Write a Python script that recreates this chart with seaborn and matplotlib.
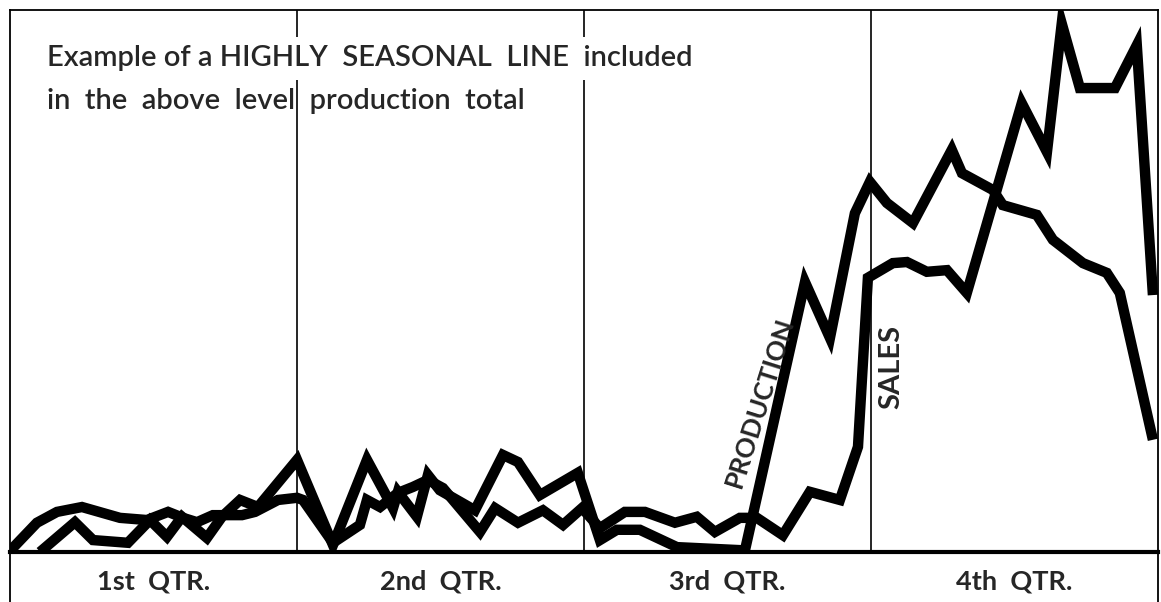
import pandas as pd
import matplotlib.pyplot as plt
import seaborn as sns

# --- data (x = week of year, y = relative units, 100 = top of frame) ---
prod_week = [1.36, 2.94, 3.76, 5.34, 6.34, 7.11, 7.79, 8.92, 9.60, 10.42, 11.23, 13.0,
             14.63, 16.17, 17.35, 17.57, 18.43, 18.93, 19.47, 21.06, 22.33, 23.01, 24.0,
             25.72, 26.72, 27.49, 28.53, 30.21, 33.29, 36.01, 37.14, 38.27, 38.95, 39.72,
             40.90, 42.66, 43.12, 44.52, 44.97, 46.51, 47.24, 48.60, 49.68, 50.27, 51.77]
prod_val = [0, 5.5, 2.2, 1.7, 5.9, 2.8, 6.5, 2.6, 6.5, 9.6, 8.3, 17.0,
            1.3, 17.0, 8.1, 11.1, 6.5, 14.2, 11.4, 7.7, 17.9, 16.6, 10.5,
            14.6, 2.2, 4.1, 4.1, 0.9, 0.3, 49.8, 39.5, 62.5, 68.3, 64.4,
            60.7, 74.2, 69.9, 66.8, 64.0, 62.2, 57.6, 53.3, 51.5, 47.8, 20.7]

sales_week = [0, 1.22, 2.13, 3.26, 4.98, 6.2, 7.16, 7.84, 8.47, 9.19, 10.51, 11.1, 12.14,
              13.0, 13.27, 14.63, 15.85, 16.17, 16.76, 17.57, 18.25, 18.93, 19.61, 21.29,
              21.97, 23.01, 24.14, 25.05, 25.91, 26.72, 27.85, 28.76, 30.12, 31.11, 31.93,
              33.06, 33.83, 35.01, 36.23, 37.59, 38.41, 38.86, 39.99, 40.63, 41.53, 42.44,
              43.34, 45.83, 46.97, 47.64, 48.46, 50.05, 51.04, 51.77]
sales_val = [0.2, 5.4, 7.4, 8.3, 6.3, 5.9, 7.4, 6.3, 5.5, 6.8, 6.8, 7.4, 9.6,
             10.0, 9.6, 1.7, 5.0, 9.6, 8.3, 10.9, 12.0, 13.3, 11.8, 3.7,
             8.1, 5.4, 7.7, 5.0, 8.1, 4.4, 7.4, 7.4, 5.4, 6.5, 3.7,
             6.3, 6.3, 3.1, 11.1, 9.6, 19.4, 50.6, 53.3, 53.5, 51.7, 52.0,
             47.8, 82.8, 73.8, 97.5, 85.6, 85.6, 93.5, 47.4]

quarter_ends = [13, 26, 39]
quarter_labels = ["1st  QTR.", "2nd  QTR.", "3rd  QTR.", "4th  QTR."]
quarter_mid = [6.5, 19.5, 32.5, 45.5]

title_lines = ["Example of a HIGHLY  SEASONAL  LINE  included",
               "in  the  above  level  production  total"]

df = pd.concat([
    pd.DataFrame({"week": prod_week, "val": prod_val, "serie": "PRODUCTION"}),
    pd.DataFrame({"week": sales_week, "val": sales_val, "serie": "SALES"}),
])

sns.set_theme(style="white")
plt.rcParams["font.family"] = ["Lato", "DejaVu Sans"]

fig = plt.figure(figsize=(11.61, 6.02), dpi=100)
ax = fig.add_axes([10 / 1161, 50 / 602, 1148 / 1161, 542 / 602])

sns.lineplot(data=df, x="week", y="val", hue="serie", units="serie", estimator=None,
             sort=False, palette=["black", "black"], linewidth=7.5, legend=False, ax=ax,
             solid_joinstyle="miter", solid_capstyle="butt")

ax.set_xlim(0, 52)
ax.set_ylim(0, 100)
ax.set_xticks([])
ax.set_yticks([])
ax.set_xlabel("")
ax.set_ylabel("")

for s in ["top", "left", "right"]:
    ax.spines[s].set_linewidth(1.3)
    ax.spines[s].set_color("black")
ax.spines["bottom"].set_linewidth(3)
ax.spines["bottom"].set_color("black")

# quarter dividers
for q in quarter_ends:
    ax.axvline(q, color="black", lw=1.2, zorder=1)

# side borders continue down through the label band
ax.plot([0, 0], [0, -0.1], transform=ax.transAxes, color="black", lw=1.3, clip_on=False)
ax.plot([1, 1], [0, -0.1], transform=ax.transAxes, color="black", lw=1.3, clip_on=False)

for m, lab in zip(quarter_mid, quarter_labels):
    ax.text(m, -0.054, lab, transform=ax.get_xaxis_transform(), ha="center", va="center",
            fontsize=19.5, fontweight="bold")

ax.text(0.032, 0.911, title_lines[0], transform=ax.transAxes, ha="left", va="center",
        fontsize=21, fontweight="semibold", zorder=5,
        bbox=dict(facecolor="white", edgecolor="none", pad=6))
ax.text(0.032, 0.832, title_lines[1], transform=ax.transAxes, ha="left", va="center",
        fontsize=21, fontweight="semibold", zorder=5)

ax.text(33.95, 27.6, "PRODUCTION", rotation=72.5, ha="center", va="center",
        fontsize=19, fontweight="bold", zorder=5)
ax.text(39.9, 34.2, "SALES", rotation=90, ha="center", va="center",
        fontsize=21, fontweight="bold", zorder=5)

plt.savefig("out.png", dpi=100)
